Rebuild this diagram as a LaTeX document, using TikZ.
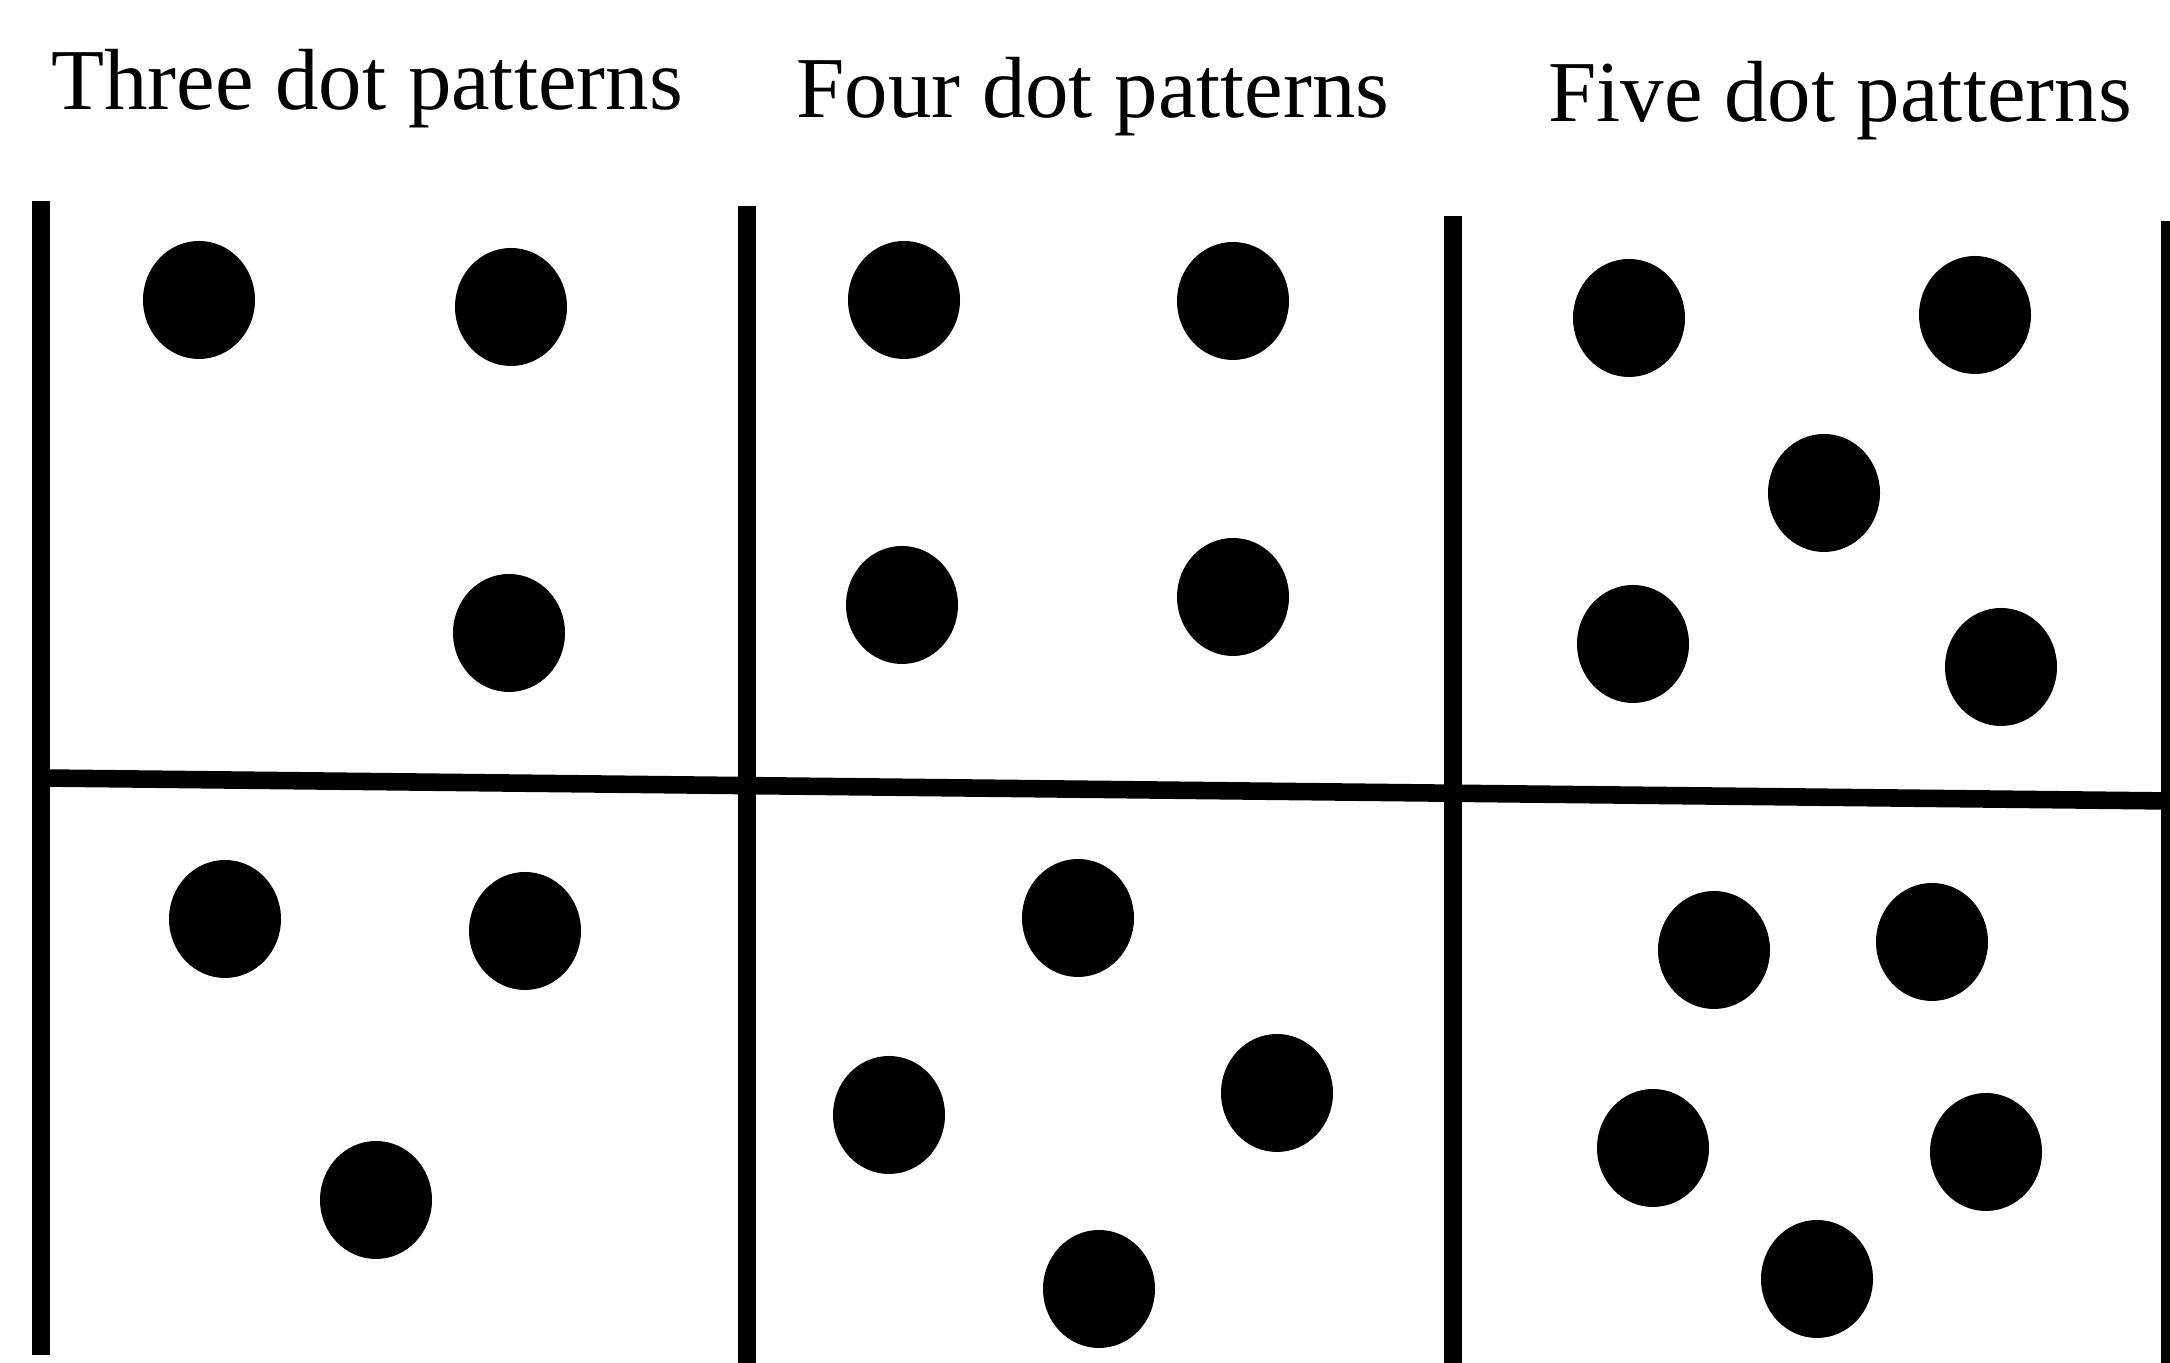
\documentclass[tikz,border=0pt]{standalone}
\usepackage{fontspec}
\setmainfont{Liberation Serif}
\usetikzlibrary{shapes.geometric}

\begin{document}
\begin{tikzpicture}[
    dot/.style={ellipse, fill=black, inner sep=0pt, minimum width=1.12cm, minimum height=1.18cm},
    rule/.style={line width=5pt},
    title/.style={anchor=base, inner sep=0pt, font=\fontsize{24.7}{30}\selectfont}
  ]
    \useasboundingbox (0,0) rectangle (21.70,13.63);

    % --- Grid ---
    \coordinate (l1t) at (0.41,11.62);  \coordinate (l1b) at (0.41,0.08);
    \coordinate (l2t) at (7.47,11.57);  \coordinate (l2b) at (7.47,0);
    \coordinate (l3t) at (14.53,11.47); \coordinate (l3b) at (14.53,0);
    \coordinate (l4t) at (21.70,11.42); \coordinate (l4b) at (21.70,0);
    \coordinate (hl) at (0.41,5.85);    \coordinate (hr) at (21.70,5.62);

    \draw[rule] (l1t) -- (l1b);
    \draw[rule] (l2t) -- (l2b);
    \draw[rule] (l3t) -- (l3b);
    \draw[rule] (l4t) -- (l4b);
    \draw[rule] (hl) -- (hr);

    % --- Three dots ---
    \begin{scope}[shift={(0.41,0)}]
        \node[title] (three) at (3.26,12.53) {Three dot patterns};
        \node[dot] (thA1) at (1.58,10.63) {};
        \node[dot] (thA2) at (4.70,10.56) {};
        \node[dot] (thA3) at (4.68,7.30) {};

        \node[dot] (thB1) at (1.84,4.44) {};
        \node[dot] (thB2) at (4.84,4.32) {};
        \node[dot] (thB3) at (3.35,1.63) {};
    \end{scope}

    % --- Four dots ---
    \begin{scope}[shift={(7.47,0)}]
        \node[title] (four) at (3.46,12.45) {Four dot patterns};
        \node[dot] (foA1) at (1.57,10.63) {};
        \node[dot] (foA2) at (4.86,10.62) {};
        \node[dot] (foA3) at (1.55,7.58) {};
        \node[dot] (foA4) at (4.86,7.66) {};

        \node[dot] (foB1) at (3.31,4.45) {};
        \node[dot] (foB2) at (1.42,2.48) {};
        \node[dot] (foB3) at (5.30,2.70) {};
        \node[dot] (foB4) at (3.52,0.74) {};
    \end{scope}

    % --- Five dots ---
    \begin{scope}[shift={(14.53,0)}]
        \node[title] (five) at (3.87,12.41) {Five dot patterns};
        \node[dot] (fiA1) at (1.76,10.45) {};
        \node[dot] (fiA2) at (5.22,10.48) {};
        \node[dot] (fiA3) at (3.71,8.70) {};
        \node[dot] (fiA4) at (1.80,7.19) {};
        \node[dot] (fiA5) at (5.48,6.96) {};

        \node[dot] (fiB1) at (2.61,4.13) {};
        \node[dot] (fiB2) at (4.79,4.21) {};
        \node[dot] (fiB3) at (2.00,2.15) {};
        \node[dot] (fiB4) at (5.33,2.11) {};
        \node[dot] (fiB5) at (3.64,0.84) {};
    \end{scope}

\end{tikzpicture}
\end{document}
